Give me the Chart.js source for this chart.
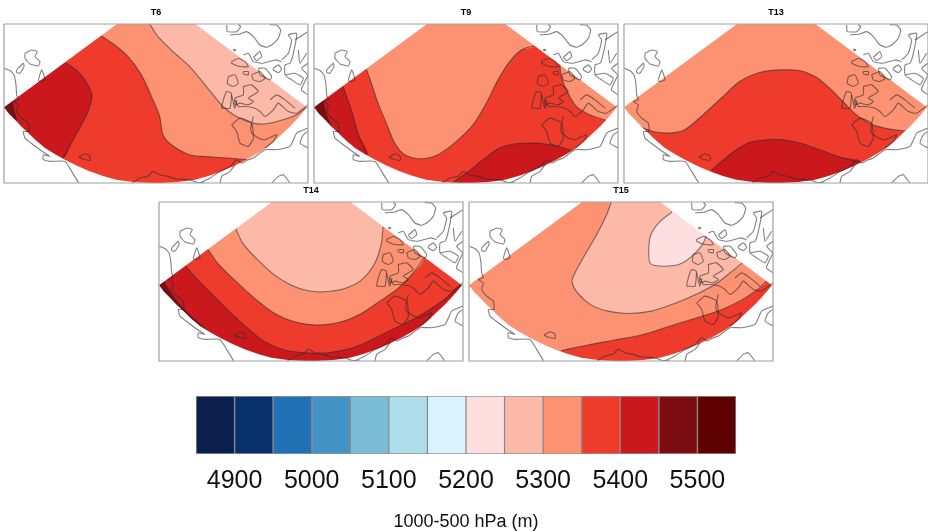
<!DOCTYPE html>
<html><head><meta charset="utf-8">
<style>
html,body{margin:0;padding:0;background:#fff;width:928px;height:531px;overflow:hidden}
canvas{position:absolute;filter:blur(0.5px)}
</style>
<script src="https://cdn.jsdelivr.net/npm/chart.js@4/dist/chart.umd.js"></script>
</head><body>
<script>
// ---- colour bar ----
const LEVEL_EDGES=[4850,4900,4950,5000,5050,5100,5150,5200,5250,5300,5350,5400,5450,5500,5550];
const LEVEL_COLORS=['#0A1F4C','#08306B','#2171B5','#4292C6','#7BBDD6','#ADDDE6','#D9F3FD','#FEDFE0','#FDB9A8','#FC9272','#EF3B2C','#CB181D','#7B0C10','#5F0000'];
const BAR_TICKS=[4900,5000,5100,5200,5300,5400,5500];
const BAR_TITLE='1000-500 hPa (m)';
// colour index names
const PALE=7,LIGHT=8,SALMON=9,RED=10,DARK=11,DARKER=12;

// ---- map outlines (map units: x 13..925, y 72..550) ----
const MAP_X=[13,925], MAP_Y=[72,550];
const FRAME=[[13,72],[925,72],[925,550],[13,550],[13,72]];
const BACKDROP=[[-100,-100],[1100,-100],[1100,700],[-100,700]];
const MASK_LEFT=[[352,72],[13,322],[28,342],[46,360],[65,380],[86,400],[110,423],[136,445],[165,463],[196,480],[232,498],[270,515],[310,529],[350,540],[400,547],[468,551],[468,700],[-100,700],[-100,-100],[352,-100]];
const MASK_RIGHT=[[587,72],[922,322],[906,342],[890,360],[871,380],[850,400],[826,423],[800,445],[771,463],[740,480],[704,498],[666,515],[626,529],[586,540],[536,547],[468,551],[468,700],[1100,700],[1100,-100],[587,-100]];
const COAST=[
 // west coast and islands
 [[14,205],[31,212],[43,225],[49,255],[51,285],[56,300],[41,305],[56,315],[51,335],[66,355],[86,370],[88,395],[71,395],[76,415],[101,435],[121,450],[136,460],[150,470],[131,465],[131,480],[151,485],[196,485],[216,515],[237,550]],
 [[76,160],[96,150],[113,155],[106,170],[121,185],[116,198],[91,192],[76,175],[76,160]],
 [[51,210],[71,190],[73,200],[61,220],[51,218],[51,210]],
 [[116,240],[126,210],[136,240],[119,245],[116,240]],
 [[238,472],[255,462],[270,468],[272,482],[250,478],[238,472]],
 // south coast
 [[398,550],[420,535],[445,530],[460,515],[480,525],[505,530],[530,538],[570,540],[590,548],[615,550]],
 [[600,550],[631,535],[661,515],[691,500],[711,480],[726,490],[746,480],[761,475],[796,450],[831,450],[871,440],[891,400],[925,385]],
 [[816,550],[836,530],[851,525],[871,550]],
 [[661,550],[666,530],[691,515],[706,495]],
 // central peninsula and islands
 [[696,375],[721,355],[756,370],[761,415],[746,440],[721,430],[711,395],[696,375]],
 [[761,350],[753,385],[756,400],[776,415],[796,420],[831,405],[821,425],[796,445]],
 [[706,300],[716,320],[736,320],[766,325],[781,335],[796,350],[821,330],[836,310],[866,335],[891,340],[925,315]],
 [[671,325],[666,325],[671,300],[681,275],[695,280],[691,325],[671,325]],
 [[696,285],[705,325],[712,302]],
 [[731,260],[756,255],[776,275],[761,285],[746,295],[761,305],[746,315],[721,310],[706,315],[706,295],[731,285],[731,260]],
 [[686,230],[706,225],[716,250],[701,260],[683,250],[686,230]],
 [[696,185],[716,175],[736,185],[746,200],[721,200],[696,190],[696,185]],
 [[731,215],[746,215],[746,225],[731,222],[731,215]],
 [[756,225],[781,215],[796,235],[781,245],[761,240],[756,225]],
 // north-east archipelago
 [[681,75],[683,95],[711,95],[723,80],[716,74]],
 [[691,105],[721,102],[741,95],[761,110],[781,135],[801,142],[816,135],[836,115],[843,90],[831,75],[811,74]],
 [[701,148],[709,150],[703,153],[701,148]],
 [[761,172],[781,155],[786,170],[771,182],[761,172]],
 [[731,165],[746,160],[761,185],[790,190],[826,180],[846,185]],
 [[776,205],[796,205],[816,230],[811,240],[781,225],[776,205]],
 [[821,205],[836,195],[846,208],[836,218],[821,210],[821,205]],
 [[846,180],[866,160],[876,120],[866,105],[891,100],[881,160],[871,190],[856,195],[856,225],[876,240],[901,255],[911,235],[886,220],[856,225]],
 [[886,120],[925,95]],[[896,150],[901,190],[921,160]],[[925,190],[906,205],[925,225]],
 [[811,300],[831,285],[856,300],[886,325]],
 [[925,225],[905,270],[925,285]],
 [[925,395],[911,405],[901,430],[925,445]]
];

// ---- contours per panel: [colour index, contour, closing points outside the fan] ----
const T6_BASE=RED;
const T6_BANDS=[
 [DARK,[[197,188],[235,215],[262,250],[277,288],[265,335],[240,385],[215,430],[190,476]],[[0,476],[0,188]]],
 [DARKER,[[38,302],[42,330],[50,362]],[[0,362],[0,302]]],
 [SALMON,[[305,108],[345,135],[385,170],[425,225],[460,300],[480,350],[490,405],[515,435],[570,465],[640,472],[710,477],[745,480]],[[1000,480],[1000,0],[305,0]]],
 [LIGHT,[[450,72],[475,110],[520,155],[570,200],[620,260],[670,320],[710,350],[760,370],[800,372],[850,360],[890,345],[922,322]],[[1000,322],[1000,0],[450,0]]]
];
const T9_BASE=RED;
const T9_BANDS=[
 [SALMON,[[170,207],[185,250],[205,310],[230,370],[255,430],[285,465],[335,477],[385,465],[440,425],[490,375],[530,310],[565,240],[600,185],[635,150],[670,138]],[[670,0],[170,0]]],
 [SALMON,[[750,190],[755,230],[770,270],[800,320],[840,345],[890,362]],[[1000,362],[1000,100],[750,100]]],
 [DARK,[[100,260],[125,330],[145,400],[172,467]],[[0,467],[0,260]]],
 [DARKER,[[40,303],[50,345],[65,385]],[[0,385],[0,303]]],
 [DARK,[[425,551],[470,520],[520,480],[570,445],[620,432],[680,430],[730,437],[790,452]],[[1000,452],[1000,600],[425,600]]]
];
const T13_BASE=SALMON;
const T13_BANDS=[
 [RED,[[62,382],[100,395],[150,400],[195,390],[250,345],[310,290],[360,245],[420,218],[480,210],[540,212],[590,232],[630,265],[670,305],[710,345],[760,375],[810,388],[860,394]],[[1000,394],[1000,700],[62,700]]],
 [DARK,[[275,512],[330,465],[385,430],[440,420],[490,420],[540,430],[600,450],[660,472],[725,490]],[[725,700],[275,700]]]
];
const T14_BASE=DARKER;
const T14_BANDS=[
 [DARK,[[25,307],[60,362],[105,412],[150,452],[175,480]],[[175,700],[1000,700],[1000,0],[0,0]]],
 [RED,[[93,265],[130,307],[180,357],[230,407],[280,452],[330,492],[390,517],[450,525],[520,525],[590,512],[650,487],[720,452],[790,417],[860,372],[922,320]],[[1000,320],[1000,0],[93,0]]],
 [SALMON,[[160,215],[190,257],[240,307],[300,362],[360,407],[420,432],[490,442],[560,432],[620,407],[680,367],[730,332],[770,292],[810,237]],[[810,0],[160,0]]],
 [LIGHT,[[243,152],[265,197],[310,247],[360,292],[410,322],[460,339],[510,342],[570,332],[620,307],[660,257],[680,197],[685,147]],[[685,0],[243,0]]]
];
const T15_BASE=RED;
const T15_BANDS=[
 [SALMON,[[290,519],[370,502],[450,487],[530,472],[610,447],[690,422],[760,400],[830,367],[880,334],[905,310]],[[905,0],[22,0],[22,345],[150,510]]],
 [LIGHT,[[440,72],[425,112],[395,172],[360,232],[330,287],[322,312],[340,347],[380,382],[430,400],[490,407],[560,400],[630,377],[700,347],[755,317],[800,282],[835,254]],[[835,0],[440,0]]],
 [PALE,[[622,102],[585,132],[560,167],[553,202],[557,257],[600,265],[650,257],[690,227],[715,197],[725,172]],[[725,0],[622,0]]]
];
const PANELS=[
 {title:'T6', left:4,  top:24, base:T6_BASE, bands:T6_BANDS},
 {title:'T9', left:314,top:24, base:T9_BASE, bands:T9_BANDS},
 {title:'T13',left:624,top:24, base:T13_BASE,bands:T13_BANDS},
 {title:'T14',left:159,top:202,base:T14_BASE,bands:T14_BANDS},
 {title:'T15',left:469,top:202,base:T15_BASE,bands:T15_BANDS}
];

const pts=a=>a.map(p=>({x:p[0],y:p[1]}));
const FONT='"Liberation Sans",Arial,sans-serif';
const LINE='rgba(45,45,45,0.6)';

function addCanvas(l,t,w,h){
 const c=document.createElement('canvas');
 c.width=w;c.height=h;c.style.left=l+'px';c.style.top=t+'px';c.style.width=w+'px';c.style.height=h+'px';
 document.body.appendChild(c);return c;
}
function panel(p){
 const layers=[];
 const poly=(a,color,tension)=>layers.push({data:pts(a),showLine:true,pointRadius:0,borderWidth:0,backgroundColor:color,borderColor:'transparent',fill:'shape',tension:tension});
 const line=(a,color,w,tension,clip)=>{const d={data:pts(a),showLine:true,pointRadius:0,borderWidth:w,borderColor:color,fill:false,tension:tension};if(clip===false)d.clip=false;layers.push(d);};
 poly(BACKDROP,LEVEL_COLORS[p.base],0);
 p.bands.forEach(b=>poly(b[1].concat(b[2]),LEVEL_COLORS[b[0]],0.3));
 p.bands.forEach(b=>line(b[1],LINE,1.1,0.3));
 poly(MASK_LEFT,'#ffffff',0);
 poly(MASK_RIGHT,'#ffffff',0);
 COAST.forEach(c=>line(c,LINE,1.1,0.15));
 line(FRAME,'#a0a0a0',1.2,0,false);
 const n=layers.length;
 layers.forEach((d,i)=>{d.order=n-i;});
 new Chart(addCanvas(p.left-2,p.top-24,308,185),{
  type:'scatter',
  data:{datasets:layers},
  options:{responsive:false,animation:false,
   layout:{padding:{left:2,right:2,top:2,bottom:2}},
   scales:{
    x:{type:'linear',display:false,min:MAP_X[0],max:MAP_X[1]},
    y:{type:'linear',display:false,min:MAP_Y[0],max:MAP_Y[1],reverse:true}
   },
   plugins:{legend:{display:false},tooltip:{enabled:false},
    title:{display:true,text:p.title,color:'#000',font:{family:FONT,size:9,weight:'bold',lineHeight:1.2},padding:{top:5.6,bottom:5.6}}}
  }
 });
}
PANELS.forEach(panel);

new Chart(addCanvas(176,396,580,137),{
 type:'bar',
 data:{labels:[''],datasets:LEVEL_COLORS.map((c,i)=>({data:[[LEVEL_EDGES[i],LEVEL_EDGES[i+1]]],backgroundColor:c,borderColor:'rgba(50,50,50,0.5)',borderWidth:1,borderSkipped:false,barPercentage:1,categoryPercentage:1,grouped:false}))},
 options:{indexAxis:'y',responsive:false,animation:false,
  layout:{padding:{left:20,right:20,top:0,bottom:0}},
  scales:{
   x:{type:'linear',min:LEVEL_EDGES[0],max:LEVEL_EDGES[LEVEL_EDGES.length-1],
    afterBuildTicks:s=>{s.ticks=BAR_TICKS.map(v=>({value:v}));},
    afterFit:s=>{s.height=79;},
    grid:{display:false,drawTicks:false},border:{display:false},
    ticks:{color:'#111',autoSkip:false,maxRotation:0,padding:12,font:{family:FONT,size:25},callback:v=>String(v)},
    title:{display:true,text:BAR_TITLE,color:'#111',font:{family:FONT,size:18},padding:{top:19,bottom:0}}},
   y:{display:false}
  },
  plugins:{legend:{display:false},tooltip:{enabled:false}}
 }
});
</script>
</body></html>
